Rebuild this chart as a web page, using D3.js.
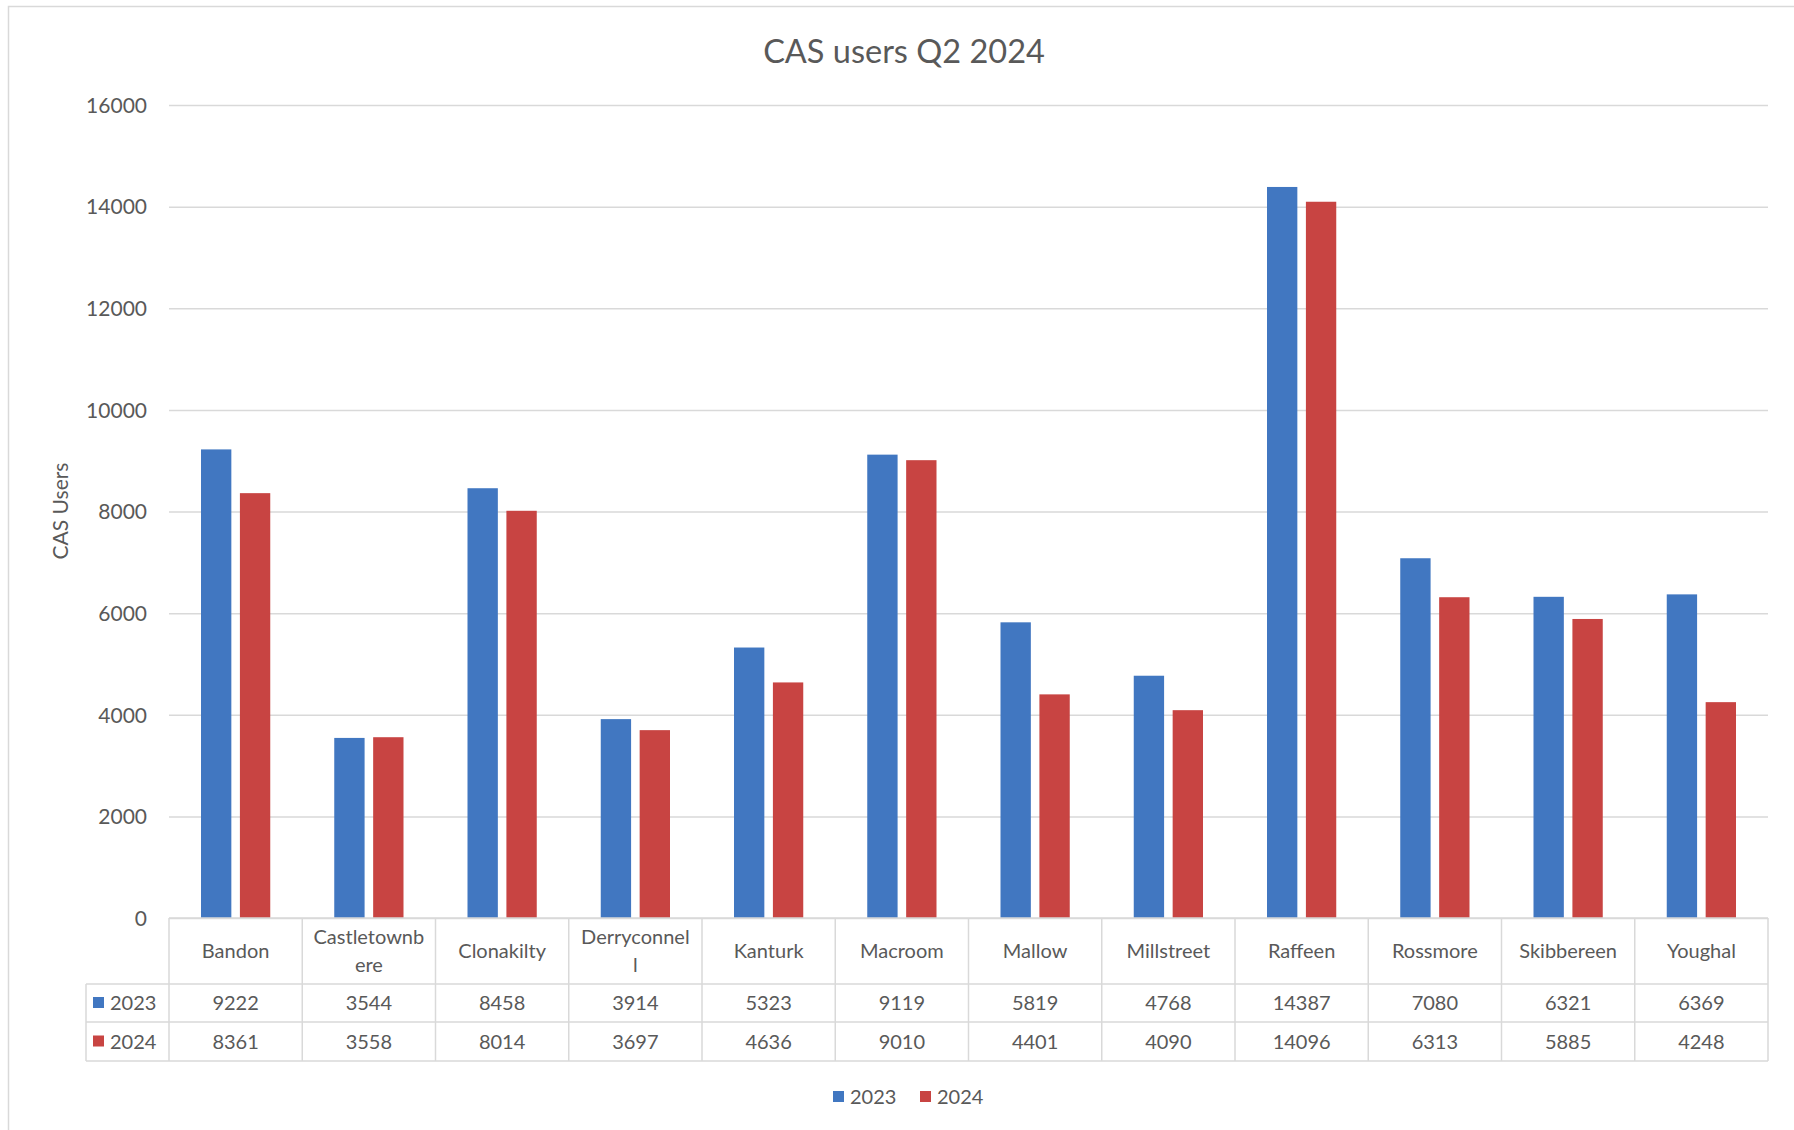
<!DOCTYPE html>
<html><head><meta charset="utf-8">
<script src="https://cdn.jsdelivr.net/npm/d3@7"></script>
<style>html,body{margin:0;padding:0;background:#fff;}svg{display:block;}</style>
</head><body>
<svg id="chart" width="1794" height="1130"></svg>
<script>
const categories = ["Bandon","Castletownbere","Clonakilty","Derryconnell","Kanturk","Macroom","Mallow","Millstreet","Raffeen","Rossmore","Skibbereen","Youghal"];
const categoryLines = [["Bandon"],["Castletownb","ere"],["Clonakilty"],["Derryconnel","l"],["Kanturk"],["Macroom"],["Mallow"],["Millstreet"],["Raffeen"],["Rossmore"],["Skibbereen"],["Youghal"]];
const seriesNames = ["2023","2024"];
const values2023 = [9222,3544,8458,3914,5323,9119,5819,4768,14387,7080,6321,6369];
const values2024 = [8361,3558,8014,3697,4636,9010,4401,4090,14096,6313,5885,4248];
const yTicks = [0,2000,4000,6000,8000,10000,12000,14000,16000];
const colors = {"2023":"#4177C1","2024":"#C84442"};
const title = "CAS users Q2 2024";
const yTitle = "CAS Users";

const seriesValues = {"2023":values2023,"2024":values2024};
const font = "Lato, 'Open Sans', sans-serif";
const textCol = "#595959";
const gridCol = "#D9D9D9";

const svg = d3.select("#chart");
const L = 169, R = 1768, T = 105, B = 918;
const tableLeft = 86;
const rowCat = [918, 984], row23 = [984, 1022], row24 = [1022, 1061];

// outer border
svg.append("rect").attr("x",8.5).attr("y",6.5).attr("width",1800).attr("height",1140)
  .attr("fill","none").attr("stroke","#D9D9D9").attr("stroke-width",1.5);

const x0 = d3.scaleBand().domain(categories).range([L,R]).padding(0);
const x1 = d3.scaleBand().domain(seriesNames).range([32, x0.bandwidth()-32]).paddingInner(0.22);
const y = d3.scaleLinear().domain([0,16000]).range([B,T]);

// gridlines
svg.append("g").selectAll("line").data(yTicks).join("line")
  .attr("x1",L).attr("x2",R).attr("y1",d=>y(d)+0.5).attr("y2",d=>y(d)+0.5)
  .attr("stroke",gridCol).attr("stroke-width",1.5);

// y axis labels
const yAxis = d3.axisLeft(y).tickValues(yTicks).tickSize(0).tickPadding(0).tickFormat(d3.format("d"));
const ya = svg.append("g").attr("transform",`translate(${147},0)`).call(yAxis);
ya.select(".domain").remove();
ya.selectAll("text").attr("font-family",font).attr("font-size",21).attr("fill",textCol).attr("dy","0.35em");

// bars
const g = svg.append("g");
categories.forEach((c,i)=>{
  seriesNames.forEach(s=>{
    const v = seriesValues[s][i];
    g.append("rect")
      .attr("x", x0(c)+x1(s)).attr("width", x1.bandwidth())
      .attr("y", y(v)).attr("height", y(0)-y(v))
      .attr("fill", colors[s]);
  });
});

// title
svg.append("text").attr("x",904).attr("y",63).attr("text-anchor","middle")
  .attr("font-family",font).attr("font-size",32.5).attr("fill",textCol).text(title);

// y title
svg.append("text").attr("transform",`translate(68,511) rotate(-90)`).attr("text-anchor","middle")
  .attr("font-family",font).attr("font-size",21).attr("fill",textCol).text(yTitle);

// data table
const tg = svg.append("g");
const hl = (x1_,x2_,yy)=>tg.append("line").attr("x1",x1_).attr("x2",x2_).attr("y1",yy).attr("y2",yy).attr("stroke",gridCol).attr("stroke-width",1.5);
const vl = (xx,y1_,y2_)=>tg.append("line").attr("x1",xx).attr("x2",xx).attr("y1",y1_).attr("y2",y2_).attr("stroke",gridCol).attr("stroke-width",1.5);
hl(L,R,rowCat[0]);
hl(tableLeft,R,row23[0]);
hl(tableLeft,R,row24[0]);
hl(tableLeft,R,row24[1]);
vl(tableLeft,row23[0],row24[1]);
categories.forEach(c=>vl(x0(c),rowCat[0],row24[1]));
vl(R,rowCat[0],row24[1]);

// category labels
categories.forEach((c,i)=>{
  const lines = categoryLines[i];
  const cx = x0(c)+x0.bandwidth()/2;
  const lh = 28;
  const midY = (rowCat[0]+rowCat[1])/2;
  lines.forEach((ln,j)=>{
    tg.append("text").attr("x",cx).attr("y", midY + (j-(lines.length-1)/2)*lh)
      .attr("dy","0.35em").attr("text-anchor","middle")
      .attr("font-family",font).attr("font-size",20).attr("fill",textCol).text(ln);
  });
});

// value rows
[[ "2023", row23],[ "2024", row24]].forEach(([s,row])=>{
  const my = (row[0]+row[1])/2;
  tg.append("rect").attr("x",93).attr("y",my-6).attr("width",11).attr("height",11).attr("fill",colors[s]);
  tg.append("text").attr("x",110).attr("y",my).attr("dy","0.35em")
    .attr("font-family",font).attr("font-size",20).attr("fill",textCol).text(s);
  categories.forEach((c,i)=>{
    tg.append("text").attr("x",x0(c)+x0.bandwidth()/2).attr("y",my).attr("dy","0.35em")
      .attr("text-anchor","middle").attr("font-family",font).attr("font-size",20)
      .attr("fill",textCol).text(seriesValues[s][i]);
  });
});

// legend
const lg = svg.append("g");
const legendX = [833, 920];
seriesNames.forEach((s,i)=>{
  lg.append("rect").attr("x",legendX[i]).attr("y",1091).attr("width",11).attr("height",11).attr("fill",colors[s]);
  lg.append("text").attr("x",legendX[i]+17).attr("y",1097).attr("dy","0.35em")
    .attr("font-family",font).attr("font-size",20).attr("fill",textCol).text(s);
});
</script>
</body></html>
